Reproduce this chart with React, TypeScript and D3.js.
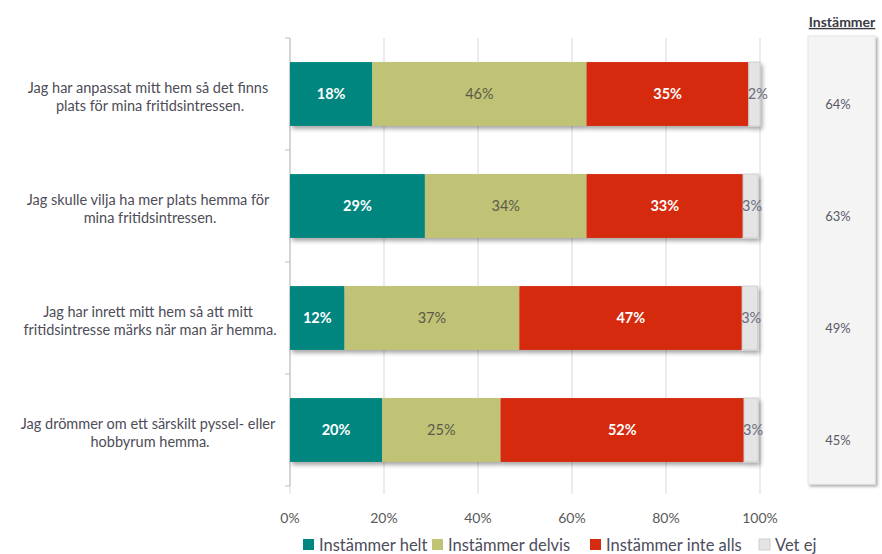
import React from "react"
import * as d3 from "d3"

const categories = [
  ["Jag har anpassat mitt hem så det finns", "plats för mina fritidsintressen."],
  ["Jag skulle vilja ha mer plats hemma för", "mina fritidsintressen."],
  ["Jag har inrett mitt hem så att mitt", "fritidsintresse märks när man är hemma."],
  ["Jag drömmer om ett särskilt pyssel- eller", "hobbyrum hemma."],
]
const seriesNames = ["Instämmer helt", "Instämmer delvis", "Instämmer inte alls", "Vet ej"]
const helt = [17.5, 28.7, 11.6, 19.6]
const delvis = [45.6, 34.4, 37.2, 25.2]
const inteAlls = [34.5, 33.3, 47.4, 51.8]
const vetEj = [2.4, 3.2, 3.3, 3.0]
const instammer = ["64%", "63%", "49%", "45%"]
const xTicks = [0, 20, 40, 60, 80, 100]

const colors = ["#00857f", "#c0c274", "#d52b0f", "#e4e4e4"]
const labelColors = ["#ffffff", "#5a5a4a", "#ffffff", "#6b6b7a"]
const font = "Lato, 'Open Sans', sans-serif"

export default function App() {
  const width = 882
  const height = 554
  const x = d3.scaleLinear().domain([0, 100]).range([290, 760])
  const y = d3
    .scaleBand<number>()
    .domain(d3.range(categories.length))
    .range([38, 486])
    .paddingInner(0.43)
    .paddingOuter(0.215)

  const rows = categories.map((_, i) => [helt[i], delvis[i], inteAlls[i], vetEj[i]])
  const stacked = rows.map((r) => {
    let acc = 0
    return r.map((v) => {
      const s = acc
      acc += v
      return { x0: s, x1: acc, v }
    })
  })

  const boundaries = d3.range(categories.length + 1).map((i) => 38 + i * 112)

  return (
    <div style={{ position: "fixed", left: 0, top: 0 }}>
      <svg width={width} height={height} style={{ display: "block", background: "#fff" }}>
        <defs>
          <filter id="sh" x="-5%" y="-20%" width="115%" height="150%">
            <feDropShadow dx="2" dy="3" stdDeviation="2" floodColor="#000" floodOpacity="0.35" />
          </filter>
          <filter id="psh" x="-20%" y="-5%" width="150%" height="115%">
            <feDropShadow dx="2" dy="2" stdDeviation="1.5" floodColor="#000" floodOpacity="0.35" />
          </filter>
        </defs>

        {/* gridlines */}
        {xTicks.map((t) => (
          <line key={t} x1={x(t)} x2={x(t)} y1={38} y2={494} stroke="#d9d9d9" strokeWidth={1} />
        ))}
        {/* left axis */}
        <line x1={290} x2={290} y1={38} y2={486} stroke="#bfbfbf" />
        {boundaries.map((b, i) => (
          <line key={i} x1={285} x2={290} y1={b} y2={b} stroke="#bfbfbf" />
        ))}

        {/* bars */}
        {stacked.map((segs, i) => (
          <g key={i} filter="url(#sh)">
            {segs.map((s, j) => (
              <rect
                key={j}
                x={x(s.x0)}
                y={y(i)!}
                width={x(s.x1) - x(s.x0)}
                height={y.bandwidth()}
                fill={colors[j]}
                stroke={j === 3 ? "#cfcfcf" : "none"}
              />
            ))}
          </g>
        ))}
        {stacked.map((segs, i) =>
          segs.map((s, j) => {
            const cy = y(i)! + y.bandwidth() / 2
            const tx = j === 3 ? x(s.x0) - 1 : (x(s.x0) + x(s.x1)) / 2
            return (
              <text
                key={`${i}-${j}`}
                x={tx}
                y={cy}
                dy="0.35em"
                textAnchor={j === 3 ? "start" : "middle"}
                fontFamily={font}
                fontSize={14.5}
                fontWeight={j === 0 || j === 2 ? "bold" : "normal"}
                fill={labelColors[j]}
              >
                {Math.round(s.v)}%
              </text>
            )
          })
        )}

        {/* category labels */}
        {categories.map((lines, i) => {
          const cy = y(i)! + y.bandwidth() / 2
          return (
            <text key={i} fontFamily={font} fontSize={14.5} fill="#4d4d57" textAnchor="middle">
              <tspan x={148} y={cy - 6} dy="0.35em">
                {lines[0]}
              </tspan>
              <tspan x={150} y={cy + 12} dy="0.35em">
                {lines[1]}
              </tspan>
            </text>
          )
        })}

        {/* x tick labels */}
        {xTicks.map((t) => (
          <text
            key={t}
            x={x(t)}
            y={518}
            dy="0.35em"
            textAnchor="middle"
            fontFamily={font}
            fontSize={14}
            fill="#595959"
          >
            {t}%
          </text>
        ))}

        {/* legend */}
        {(() => {
          const items = [303, 432, 590, 759]
          return seriesNames.map((n, j) => (
            <g key={n}>
              <rect
                x={items[j]}
                y={539}
                width={11}
                height={11}
                fill={colors[j]}
                stroke={j === 3 ? "#d0d0d0" : "none"}
              />
              <text
                x={items[j] + 16}
                y={545}
                dy="0.35em"
                fontFamily={font}
                fontSize={16.5}
                fill="#4d4d5c"
              >
                {n}
              </text>
            </g>
          ))
        })()}

        {/* right panel */}
        <rect x={808} y={36} width={67} height={448} fill="#f4f4f4" stroke="#e6e6e6" filter="url(#psh)" />
        <text
          x={842}
          y={22}
          dy="0.35em"
          textAnchor="middle"
          fontFamily={font}
          fontSize={14}
          fontWeight="bold"
          fill="#3a3a44"
          textDecoration="underline"
        >
          Instämmer
        </text>
        {instammer.map((v, i) => (
          <text
            key={i}
            x={838}
            y={y(i)! + y.bandwidth() / 2 + 10}
            dy="0.35em"
            textAnchor="middle"
            fontFamily={font}
            fontSize={13}
            fill="#5a5a66"
          >
            {v}
          </text>
        ))}
      </svg>
    </div>
  )
}
